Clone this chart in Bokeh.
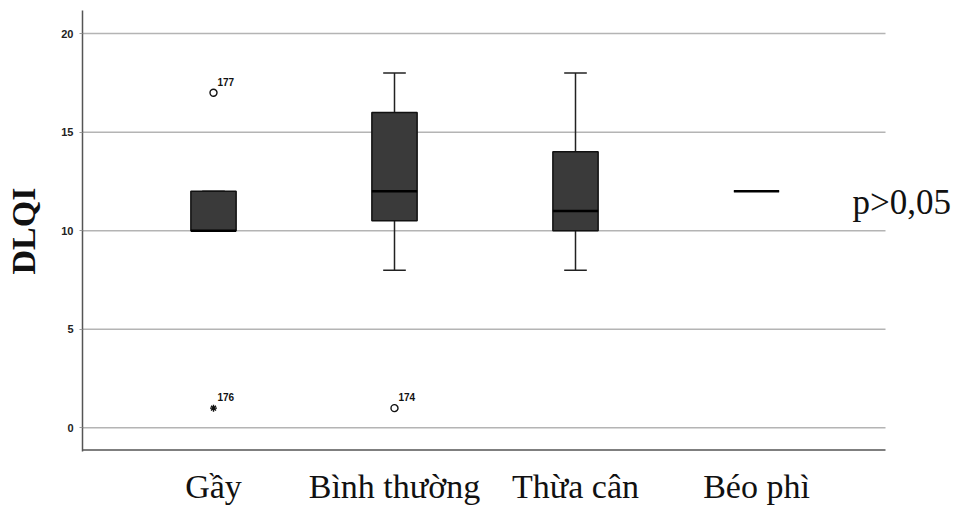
from bokeh.plotting import figure
from bokeh.models import FixedTicker, Label, ColumnDataSource, Range1d
from bokeh.core.properties import value
from bokeh.embed import file_html
from bokeh.resources import INLINE

# ---- data ----
categories = ["Gầy", "Bình thường", "Thừa cân", "Béo phì"]
q1 = [10, 10.5, 10, 12]
median = [10, 12, 11, 12]
q3 = [12, 16, 14, 12]
lower_whisker = [10, 8, 8, 12]
upper_whisker = [12, 18, 18, 12]

outlier_cat = ["Gầy", "Gầy", "Bình thường"]
outlier_val = [17, 1, 1]
outlier_id = ["177", "176", "174"]
outlier_marker = ["circle", "asterisk", "circle"]

y_ticks = [0, 5, 10, 15, 20]
p_text = "p>0,05"

# ---- geometry helpers ----
pos = {c: i + 1 for i, c in enumerate(categories)}
xs = [pos[c] for c in categories]
box_w = 0.25
cap_w = 0.125
x_start = 1 - 131 / 181
x_end = x_start + 875 / 181
x_plot_end = x_start + 803 / 181
y_start, y_end = -1.2, 21.17
y_bottom_line = -1.12

p = figure(width=957, height=507, output_backend="svg", toolbar_location=None,
           x_range=Range1d(x_start, x_end), y_range=Range1d(y_start, y_end),
           min_border_left=82, min_border_right=0, min_border_top=10, min_border_bottom=56)
p.outline_line_color = None
p.xgrid.grid_line_color = None
p.ygrid.grid_line_color = None

# horizontal grid lines (stop short of the right side)
p.segment(x0=[x_start] * len(y_ticks), y0=y_ticks, x1=[x_plot_end] * len(y_ticks), y1=y_ticks,
          line_color="#b4b4b4", line_width=1.5)
# bottom axis line
p.segment(x0=[x_start], y0=[y_bottom_line], x1=[x_plot_end], y1=[y_bottom_line],
          line_color="#555555", line_width=1.5)

# whiskers
src = ColumnDataSource(dict(x=xs, q1=q1, med=median, q3=q3, lo=lower_whisker, hi=upper_whisker,
                            xl=[x - cap_w / 2 for x in xs], xr=[x + cap_w / 2 for x in xs],
                            bl=[x - box_w / 2 for x in xs], br=[x + box_w / 2 for x in xs]))
p.segment(x0="x", y0="q3", x1="x", y1="hi", source=src, line_color="#222222", line_width=1.5)
p.segment(x0="x", y0="q1", x1="x", y1="lo", source=src, line_color="#222222", line_width=1.5)
p.segment(x0="xl", y0="hi", x1="xr", y1="hi", source=src, line_color="#222222", line_width=1.5)
p.segment(x0="xl", y0="lo", x1="xr", y1="lo", source=src, line_color="#222222", line_width=1.5)
# boxes
p.vbar(x="x", width=box_w, bottom="q1", top="q3", source=src,
       fill_color="#3a3a3a", line_color="#111111", line_width=1.5)
# medians
p.segment(x0="bl", y0="med", x1="br", y1="med", source=src, line_color="#000000", line_width=2.5)

# outliers
ox = [pos[c] for c in outlier_cat]
osrc = ColumnDataSource(dict(x=ox, y=outlier_val, lab=outlier_id, m=outlier_marker))
p.scatter(x="x", y="y", marker="m", source=osrc, size=7, line_color="#111111",
          fill_color="white", line_width=1.4)
p.text(x="x", y="y", text="lab", source=osrc, x_offset=4, y_offset=-7,
       text_font=value("Liberation Sans"), text_font_style="bold", text_font_size="10px",
       text_color="#111111", text_baseline="bottom", text_align="left")

# p-value label
p.add_layout(Label(x=4.53, y=11.45, text=p_text, text_font="Liberation Serif",
                   text_font_size="35px", text_color="#111111", text_baseline="alphabetic"))

# axes
p.xaxis.ticker = FixedTicker(ticks=xs)
p.xaxis.major_label_overrides = {x: c for x, c in zip(xs, categories)}
p.xaxis.major_label_text_font = "Liberation Serif"
p.xaxis.major_label_text_font_size = "34px"
p.xaxis.major_label_text_color = "#111111"
p.xaxis.major_label_standoff = 10
p.xaxis.major_tick_line_color = None
p.xaxis.minor_tick_line_color = None
p.xaxis.axis_line_color = None

p.yaxis.ticker = FixedTicker(ticks=y_ticks)
p.yaxis.major_label_text_font = "Liberation Sans"
p.yaxis.major_label_text_font_style = "bold"
p.yaxis.major_label_text_font_size = "11px"
p.yaxis.major_label_text_color = "#222222"
p.yaxis.major_label_standoff = 6
p.yaxis.major_tick_line_color = "#999999"
p.yaxis.major_tick_out = 3
p.yaxis.major_tick_in = 0
p.yaxis.minor_tick_line_color = None
p.yaxis.axis_line_color = "#555555"
p.yaxis.axis_line_width = 1.5
p.yaxis.axis_label = "DLQI"
p.yaxis.axis_label_text_font = "Liberation Serif"
p.yaxis.axis_label_text_font_style = "bold"
p.yaxis.axis_label_text_font_size = "34px"
p.yaxis.axis_label_text_color = "#111111"
p.yaxis.axis_label_standoff = 16

open("out.html", "w").write(file_html(p, INLINE))
